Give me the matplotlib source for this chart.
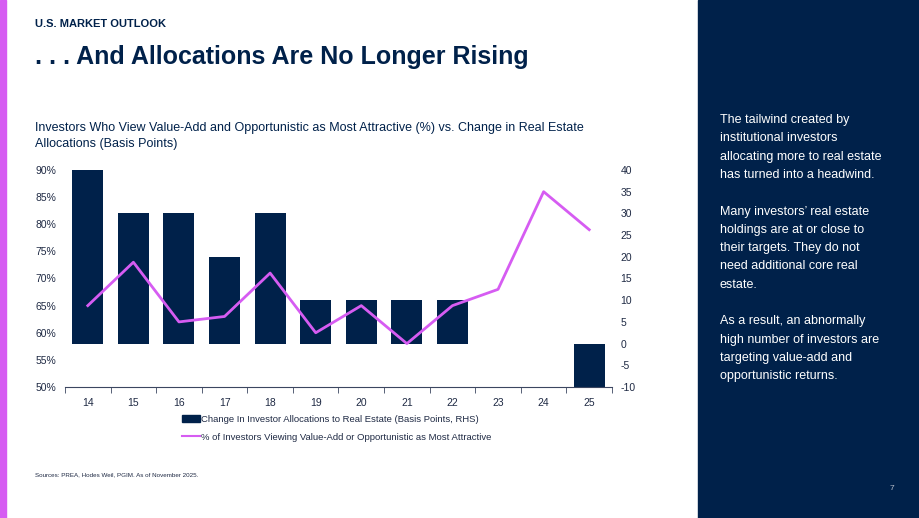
"""Allocations vs value-add / opportunistic preference chart."""
import matplotlib
matplotlib.use('Agg')
import matplotlib.pyplot as plt
from matplotlib.patches import Rectangle, Patch
from matplotlib.lines import Line2D

years = ['14', '15', '16', '17', '18', '19', '20', '21', '22', '23', '24', '25']
alloc_change_bps = [40, 30, 30, 20, 30, 10, 10, 10, 10, 0, 0, -10]
pct_value_add = [65, 73, 62, 63, 71, 60, 65, 58, 65, 68, 86, 79]

left_ticks = [50, 55, 60, 65, 70, 75, 80, 85, 90]
right_ticks = [-10, -5, 0, 5, 10, 15, 20, 25, 30, 35, 40]

navy = '#00214a'
magenta = '#d65cf2'
text_col = '#1f2a44'

plt.rcParams['font.family'] = ['Liberation Sans', 'DejaVu Sans']

W, H = 920, 518
fig = plt.figure(figsize=(W / 100, H / 100), dpi=100)

# page decorations
fig.add_artist(Rectangle((0, 0), 6 / W, 1, transform=fig.transFigure,
                         color=magenta, zorder=0))
fig.add_artist(Rectangle((698 / W, 0), 1 - 698 / W, 1, transform=fig.transFigure,
                         color=navy, zorder=0))

fig.text(35 / W, 1 - 24 / H, 'U.S. MARKET OUTLOOK', fontsize=8, fontweight='bold',
         color=navy, va='center')
fig.text(35 / W, 1 - 57 / H, '. . . And Allocations Are No Longer Rising', fontsize=18,
         fontweight='bold', color=navy, va='center')
fig.text(35 / W, 1 - 136 / H,
         'Investors Who View Value-Add and Opportunistic as Most Attractive (%) vs. Change in Real Estate\n'
         'Allocations (Basis Points)', fontsize=9, color=navy, va='center', linespacing=1.5)

side = ('The tailwind created by\ninstitutional investors\nallocating more to real estate\n'
        'has turned into a headwind.\n\n'
        'Many investors\u2019 real estate\nholdings are at or close to\ntheir targets. They do not\n'
        'need additional core real\nestate.\n\n'
        'As a result, an abnormally\nhigh number of investors are\ntargeting value-add and\n'
        'opportunistic returns.')
fig.text(720 / W, 1 - 114 / H, side, fontsize=9, color='white', va='top', linespacing=1.7)
fig.text(890 / W, 1 - 488 / H, '7', fontsize=6, color='#b8bfcc', va='center')
fig.text(35 / W, 1 - 475 / H, 'Sources: PREA, Hodes Weil, PGIM. As of November 2025.',
         fontsize=4.5, color=text_col, va='center')

# chart
ax = fig.add_axes([65 / W, 1 - 387 / H, (612 - 65) / W, (387 - 170) / H])
ax2 = ax.twinx()
x = range(len(years))

ax2.bar(x, alloc_change_bps, width=0.68, color=navy, edgecolor='none')
ax2.set_ylim(-10, 40)
ax2.set_yticks(right_ticks)
ax2.set_yticklabels([str(v) for v in right_ticks])

ax.plot(x, pct_value_add, color=magenta, linewidth=2)
ax.set_ylim(50, 90)
ax.set_yticks(left_ticks)
ax.set_yticklabels([f'{v}%' for v in left_ticks])
ax.set_xlim(-0.5, len(years) - 0.5)
ax.set_xticks(list(x))
ax.set_xticklabels(years)
ax.set_xticks([i - 0.5 for i in range(len(years) + 1)], minor=True)

# line drawn above bars
ax.set_zorder(ax2.get_zorder() + 1)
ax.patch.set_visible(False)

for a in (ax, ax2):
    for s in ('top', 'left', 'right'):
        a.spines[s].set_visible(False)
    a.spines['bottom'].set_color('#3b4660')
    a.tick_params(axis='y', length=0, labelsize=7.5, labelcolor=text_col, pad=6)
ax2.spines['bottom'].set_visible(False)
ax.tick_params(axis='x', which='major', length=0, labelsize=7.5, labelcolor=text_col, pad=8)
ax.tick_params(axis='x', which='minor', length=4, color='#3b4660', direction='out')

handles = [Patch(facecolor=navy, edgecolor=navy),
           Line2D([0], [0], color=magenta, linewidth=1.5)]
labels = ['Change In Investor Allocations to Real Estate (Basis Points, RHS)',
          '% of Investors Viewing Value-Add or Opportunistic as Most Attractive']
fig.legend(handles, labels, loc='upper left', bbox_to_anchor=(177 / W, 1 - 410 / H),
           frameon=False, fontsize=6.8, handlelength=1.9, handletextpad=0.1,
           labelspacing=0.95, borderpad=0, labelcolor=text_col)

fig.savefig('out.png', dpi=100)
